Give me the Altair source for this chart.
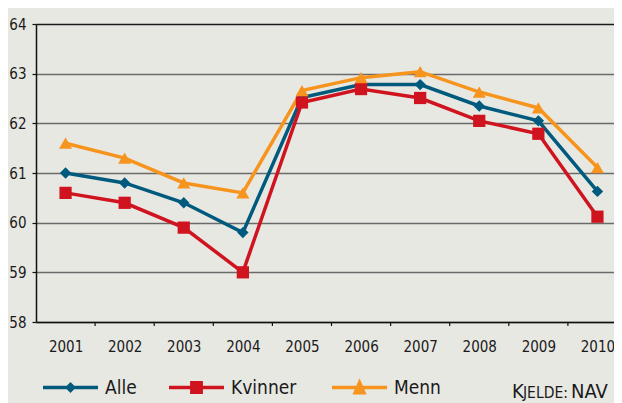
import altair as alt
import pandas as pd

years = [2001, 2002, 2003, 2004, 2005, 2006, 2007, 2008, 2009, 2010]
alle = [61.0, 60.8, 60.4, 59.8, 62.52, 62.78, 62.78, 62.35, 62.05, 60.63]
kvinner = [60.6, 60.4, 59.9, 59.0, 62.42, 62.69, 62.51, 62.05, 61.79, 60.12]
menn = [61.6, 61.3, 60.8, 60.6, 62.66, 62.92, 63.04, 62.63, 62.31, 61.11]
series = ["Alle", "Kvinner", "Menn"]
colors = ["#005a7d", "#d0141f", "#f7941e"]
point_shapes = ["diamond", "square", "triangle-up"]
point_sizes = [130, 150, 170]
legend_paths = [
    "M-1,0L1,0M0,-0.11L0.11,0L0,0.11L-0.11,0Z",
    "M-1,0L1,0M-0.17,-0.17L0.17,-0.17L0.17,0.17L-0.17,0.17ZM-0.06,-0.06L0.06,-0.06L0.06,0.06L-0.06,0.06Z",
    "M-1,0L1,0M0,-0.18L0.16,0.19L-0.16,0.19ZM-0.05,0.09L0.05,0.09",
]
legend_x = [5, 131, 294]
y_ticks = [58, 59, 60, 61, 62, 63, 64]
x_tick_marks = [2001.5, 2002.5, 2003.5, 2004.5, 2005.5, 2006.5, 2007.5, 2008.5, 2009.5]

rows = []
for name, vals in zip(series, [alle, kvinner, menn]):
    for yr, v in zip(years, vals):
        rows.append({"year": yr, "value": v, "serie": name})
df = pd.DataFrame(rows)
legend_df = pd.DataFrame({"serie": series})

FONT = "Liberation Sans Narrow, DejaVu Sans Condensed, Roboto, sans-serif"
W, H = 578, 298

xscale = alt.Scale(domain=[2000.5, 2010.28], nice=False, zero=False)
yscale = alt.Scale(domain=[58, 64], nice=False, zero=False)

x_enc = alt.X(
    "year:Q",
    scale=xscale,
    axis=alt.Axis(
        values=years, format="d", ticks=False, grid=False, title=None,
        labelFont=FONT, labelFontSize=15, labelColor="#1a1a1a",
        labelPadding=17, domainColor="#111111", domainWidth=1.5,
    ),
)
y_enc = alt.Y(
    "value:Q",
    scale=yscale,
    axis=alt.Axis(
        values=y_ticks, title=None, grid=True,
        gridColor={"condition": {"test": "datum.value == 64", "value": "#1a1a1a"}, "value": "#6a6a6a"},
        gridWidth=1.5, tickSize=4, tickColor="#111111", tickWidth=1.2,
        labelFont=FONT, labelFontSize=15, labelColor="#1a1a1a", labelPadding=6,
        domainColor="#111111", domainWidth=1.5,
    ),
)

lines = alt.Chart(df).mark_line(strokeWidth=3.5).encode(
    x=x_enc, y=y_enc,
    stroke=alt.Stroke("serie:N", scale=alt.Scale(domain=series, range=colors), legend=None),
    detail="serie:N",
)

point_layers = []
for name, shp, sz in zip(series, point_shapes, point_sizes):
    point_layers.append(
        alt.Chart(df).transform_filter(alt.datum.serie == name)
        .mark_point(filled=True, opacity=1, size=sz, shape=shp, strokeWidth=0)
        .encode(
            x="year:Q", y="value:Q",
            fill=alt.Fill("serie:N", scale=alt.Scale(domain=series, range=colors), legend=None),
        )
    )

ticks_df = pd.DataFrame({"t": x_tick_marks})
xticks = alt.Chart(ticks_df).mark_rule(color="#111111", strokeWidth=1.2).encode(
    x=alt.X("t:Q"), y=alt.value(H), y2=alt.value(H + 4)
)

legend_layers = []
for name, col, path, lx in zip(series, colors, legend_paths, legend_x):
    legend_layers.append(
        alt.Chart(legend_df).transform_filter(alt.datum.serie == name)
        .mark_point(filled=False, color=col, strokeWidth=3.5, opacity=1)
        .encode(
            x=alt.value(-200), y=alt.value(-200),
            shape=alt.Shape(
                "serie:N",
                scale=alt.Scale(domain=[name], range=[path]),
                title=None,
                legend=alt.Legend(
                    orient="none", legendX=lx, legendY=334, direction="horizontal",
                    symbolSize=3025, symbolStrokeWidth=3.5, symbolOpacity=1,
                    symbolStrokeColor=col, symbolFillColor="transparent",
                    labelFont=FONT, labelFontSize=19, labelColor="#1a1a1a",
                    labelOffset=5, padding=0,
                ),
            ),
        )
    )

def txt(s, x, size):
    return alt.Chart(alt.Data(values=[{}])).mark_text(
        text=s, align="left", baseline="alphabetic", font=FONT,
        fontSize=size, color="#1a1a1a",
    ).encode(x=alt.value(x), y=alt.value(374))

src = txt("K", 476, 20) + txt("JELDE:", 487, 15.5) + txt("NAV", 535, 20)

chart = alt.layer(lines, *point_layers, xticks, *legend_layers, src).resolve_scale(
    shape="independent"
).properties(
    width=W, height=H,
    background="#e8e8e3",
    padding={"left": 28, "top": 16, "right": 0, "bottom": 81},
    autosize=alt.AutoSizeParams(type="none"),
).configure_view(stroke=None, fill="#e8e8e3")

chart.save("out.html", embed_options={"renderer": "svg", "actions": False})
